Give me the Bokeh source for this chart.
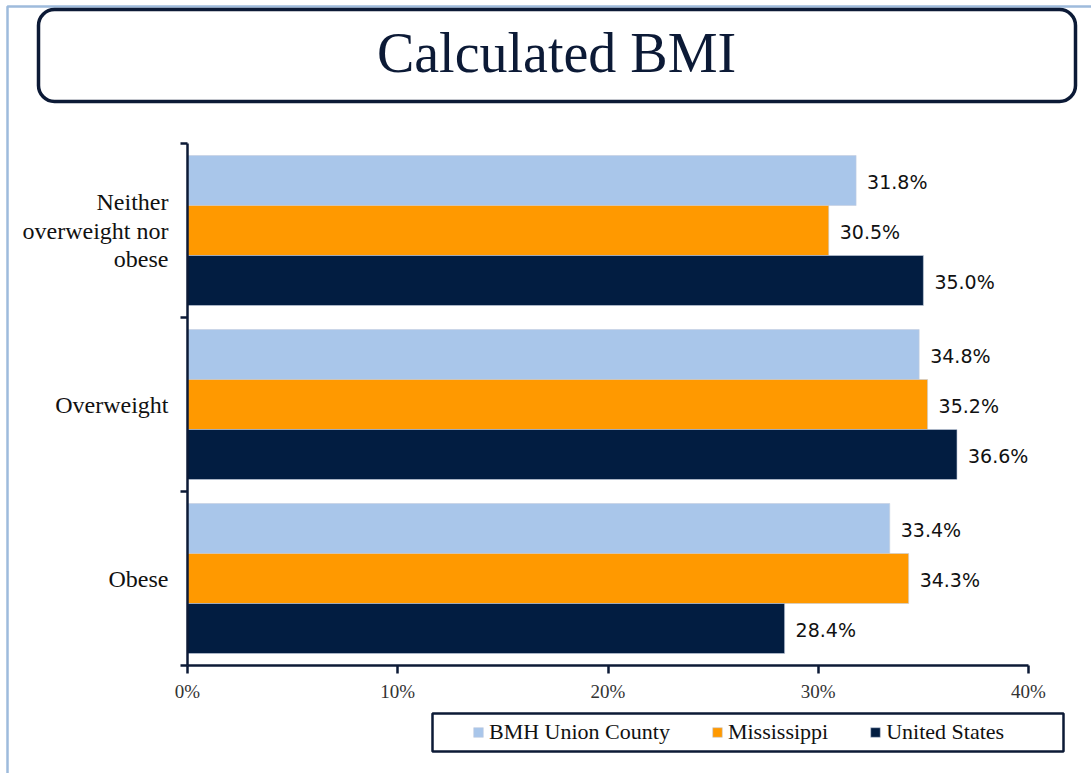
from bokeh.plotting import figure
from bokeh.models import (ColumnDataSource, FixedTicker, PrintfTickFormatter, Legend, LegendItem,
                          BoxAnnotation, Label, Range1d)
from bokeh.embed import file_html
from bokeh.resources import INLINE
from bokeh.core.properties import value
from bokeh.transform import dodge

# ---- data ----
categories = ["Obese", "Overweight", "Neither\noverweight nor\nobese"]
series_names = ["BMH Union County", "Mississippi", "United States"]
union_county = [33.4, 34.8, 31.8]
mississippi = [34.3, 35.2, 30.5]
united_states = [28.4, 36.6, 35.0]
x_ticks = [0, 10, 20, 30, 40]
x_max = 40
colors = ["#a9c6ea", "#ff9900", "#021d41"]

NAVY = "#0c1a36"
W, H = 1091, 773
FL, FR, FT, FB = 187, 1028, 143, 665  # where the value axes sit on the canvas

ncat = len(categories)
sx = (FR - FL) / x_max          # px per x unit
sy = (FB - FT) / ncat           # px per category
x_start = -FL / sx
x_end = x_max + (W - FR) / sx
y_start = -(H - FB) / sy
y_end = ncat + FT / sy


def px2x(px):
    return x_start + px / sx


def px2y(py):
    return y_end - py / sy


positions = [i + 0.5 for i in range(ncat)]
src = ColumnDataSource(dict(
    y=positions,
    union=union_county, miss=mississippi, us=united_states,
    union_lbl=[f"{v:.1f}%" for v in union_county],
    miss_lbl=[f"{v:.1f}%" for v in mississippi],
    us_lbl=[f"{v:.1f}%" for v in united_states],
))

p = figure(width=W, height=H, x_range=Range1d(x_start, x_end), y_range=Range1d(y_start, y_end),
           output_backend="svg", toolbar_location=None, min_border=0)
p.outline_line_color = None
p.xgrid.visible = False
p.ygrid.visible = False
p.background_fill_color = "white"
p.border_fill_color = "white"

bh = 50 / sy
fields = ["union", "miss", "us"]
lbls = ["union_lbl", "miss_lbl", "us_lbl"]
offsets = [bh, 0, -bh]
renderers = []
for f, lb, off, c in zip(fields, lbls, offsets, colors):
    r = p.hbar(y=dodge("y", off), right=f, left=0, height=bh, source=src,
               fill_color=c, line_color="#c4cfdf", line_width=0.6)
    renderers.append(r)
    p.text(x=f, y=dodge("y", off), text=lb, source=src, x_offset=11, y_offset=1,
           text_baseline="middle", text_align="left",
           text_font=value("DejaVu Sans"), text_font_size="19px", text_color="#111111")

# axes
xa = p.xaxis[0]
xa.fixed_location = 0
xa.bounds = (0, x_max)
xa.ticker = FixedTicker(ticks=x_ticks)
xa.formatter = PrintfTickFormatter(format="%d%%")
xa.axis_line_color = NAVY
xa.axis_line_width = 2.5
xa.major_tick_line_color = NAVY
xa.major_tick_line_width = 2.5
xa.major_tick_in = 0
xa.major_tick_out = 8
xa.minor_tick_line_color = None
xa.major_label_text_font = "Liberation Serif"
xa.major_label_text_font_size = "19px"
xa.major_label_text_color = "#333333"
xa.major_label_standoff = 7

ya = p.yaxis[0]
ya.fixed_location = 0
ya.bounds = (0, ncat)
ya.ticker = FixedTicker(ticks=positions, minor_ticks=list(range(ncat + 1)))
ya.major_label_overrides = {pos: cat for pos, cat in zip(positions, categories)}
ya.axis_line_color = NAVY
ya.axis_line_width = 2.5
ya.major_tick_line_color = None
ya.minor_tick_line_color = NAVY
ya.minor_tick_line_width = 2.5
ya.minor_tick_in = 0
ya.minor_tick_out = 7
ya.major_label_text_font = "Liberation Serif"
ya.major_label_text_font_size = "24px"
ya.major_label_text_line_height = 1.1
ya.major_label_text_color = "#111111"
ya.major_label_standoff = 12

# page border lines (top and left)
p.add_layout(BoxAnnotation(left=px2x(7), right=px2x(1200), top=px2y(6), bottom=px2y(900),
                           fill_color=None, line_color="#9ebbdc", line_alpha=1, line_width=2.5))

# title box
p.add_layout(BoxAnnotation(left=px2x(38), right=px2x(1075), top=px2y(9), bottom=px2y(101),
                           fill_color=None, line_color=NAVY, line_alpha=1, line_width=3.5,
                           border_radius=16))
p.add_layout(Label(x=px2x(556), y=px2y(52), text="Calculated BMI",
                   text_align="center", text_baseline="middle",
                   text_font="Liberation Serif", text_font_size="56px", text_color=NAVY))

# legend box
p.add_layout(BoxAnnotation(left=px2x(432), right=px2x(1063), top=px2y(713), bottom=px2y(751),
                           fill_color=None, line_color=NAVY, line_alpha=1, line_width=2.5))

legend = Legend(items=[LegendItem(label=n, renderers=[r]) for n, r in zip(series_names, renderers)],
                orientation="horizontal", location=(472, H - 745),
                border_line_color=None, background_fill_alpha=0,
                padding=0, margin=0, spacing=41, label_standoff=5,
                glyph_width=12, glyph_height=12,
                label_text_font="Liberation Serif", label_text_font_size="22px",
                label_text_color="#111111")
p.add_layout(legend, "center")

open("out.html", "w").write(file_html(p, INLINE))
